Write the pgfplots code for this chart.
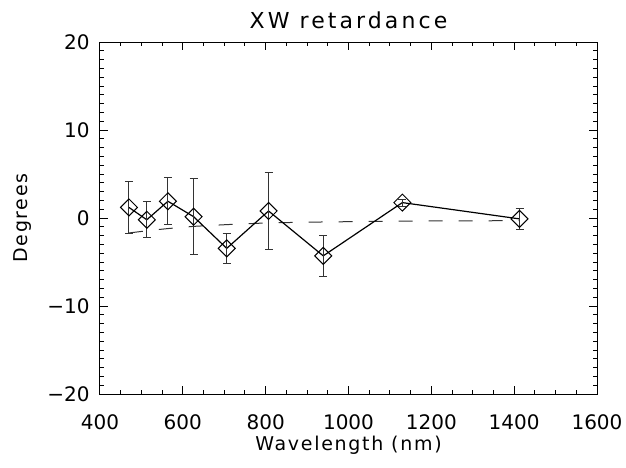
\documentclass[border=0pt]{standalone}
\usepackage{pgfplots}
\pgfplotsset{compat=1.18}
\usepackage{fontspec}
\setmainfont{DejaVu Sans}
\newfontfamily\titlefont[LetterSpace=14]{DejaVu Sans}
\newfontfamily\labelfont[LetterSpace=9]{DejaVu Sans}
\begin{document}
\begin{tikzpicture}
\path[use as bounding box] (-50pt,-36.5pt) rectangle (263pt,197pt);
\begin{axis}[
  at={(0,0)}, anchor=south west,
  scale only axis, width=248.5pt, height=176pt,
  xmin=400, xmax=1600, ymin=-20, ymax=20,
  xtick={400,600,800,1000,1200,1400,1600},
  xticklabels={400,600,800,1000,1200,1400,1600},
  minor x tick num=3,
  ytick={-20,-10,0,10,20},
  yticklabels={−20,−10,0,10,20},
  minor y tick num=9,
  tick align=inside,
  xtick pos=both, ytick pos=both,
  major tick length=4pt, minor tick length=2pt,
  every tick/.style={black, line width=0.5pt},
  axis line style={black, line width=0.5pt},
  xticklabel style={font=\fontsize{10}{12}\selectfont, anchor=center, inner sep=0pt, yshift=-14pt},
  yticklabel style={font=\fontsize{10}{12}\selectfont, anchor=east, inner sep=0pt, xshift=-5pt},
  xlabel={Wavelength (nm)},
  xlabel style={font=\labelfont\fontsize{9.5}{11}\selectfont, at={(axis description cs:0.5,-0.145)}, anchor=center},
  ylabel={Degrees},
  ylabel style={font=\labelfont\fontsize{9.5}{11}\selectfont, at={(axis description cs:-0.155,0.5)}, anchor=center},
  title={XW retardance},
  title style={font=\titlefont\fontsize{11}{13}\selectfont, at={(axis description cs:0.5,1.029)}, anchor=center},
]
\addplot[black!80, line width=0.5pt, dash pattern=on 7pt off 8pt] coordinates {
  (470,-1.7) (513,-1.45) (564,-1.2) (626,-0.95) (706,-0.75) (807,-0.55) (939,-0.45) (1130,-0.35) (1413,-0.3)
};
\addplot[black, line width=0.6pt, mark=square, mark size=3pt,
  mark options={rotate=45, solid, fill=none, line width=0.5pt},
  error bars/.cd, y dir=both, y explicit,
  error bar style={black!80, line width=0.5pt},
  error mark options={rotate=90, mark size=2pt, black!80, line width=0.5pt}]
coordinates {
  (470,1.2) +- (0,3.0)
  (513,-0.2) +- (0,2.05)
  (564,1.9) +- (0,2.65)
  (626,0.15) +- (0,4.3)
  (706,-3.45) +- (0,1.7)
  (807,0.8) +- (0,4.4)
  (939,-4.3) +- (0,2.3)
  (1130,1.75) +- (0,0.4)
  (1413,-0.1) +- (0,1.23)
};
\end{axis}
\end{tikzpicture}
\end{document}
